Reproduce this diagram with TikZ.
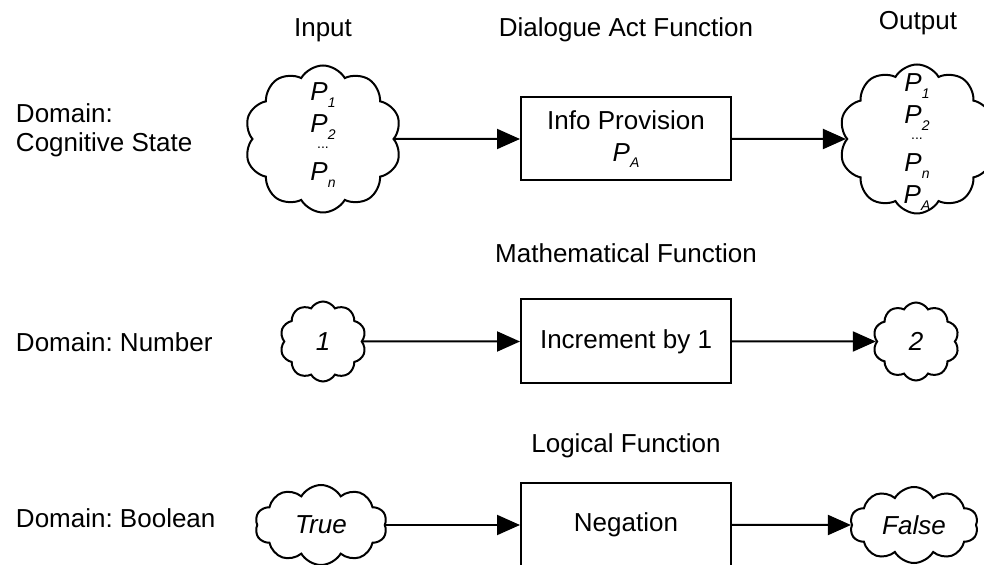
\documentclass[tikz,border=0pt]{standalone}
\usepackage{fontspec}
\setmainfont{Liberation Sans}
\usetikzlibrary{shapes,arrows.meta,positioning}

\newcommand{\Pv}[1]{\textit{P}\raisebox{-0.45ex}{\fontsize{7}{8}\selectfont\itshape #1}}
\newcommand{\tinydots}{{\fontsize{7}{8}\selectfont ...}}
\frenchspacing

\begin{document}
\begin{tikzpicture}[x=0.5pt, y=-0.5pt, line width=1pt,
  every node/.style={font=\fontsize{13}{16}\selectfont},
  fnbox/.style={draw, rectangle, minimum width=105pt, minimum height=42pt, inner sep=0pt, align=center},
  blob/.style={draw, cloud, cloud puffs=10, cloud puff arc=120, cloud ignores aspect, inner sep=0pt, align=center, font=\fontsize{13}{16}\selectfont\itshape},
  ptext/.style={inner sep=0pt, align=center},
  arr/.style={-{Triangle[length=11.5pt, width=10pt]}},
  lbl/.style={inner sep=0pt, anchor=base},
  dom/.style={inner sep=0pt, align=left}]
  \useasboundingbox (0,0) rectangle (984,565);

  % column titles
  \node[lbl] (intitle) at (323,37) {Input};
  \node[lbl] (daftitle) at (626,37) {Dialogue Act Function};
  \node[lbl] (outtitle) at (918,30) {Output};

  % domain: cognitive state
  \node[dom, anchor=west] (domcog) at (15,130) {Domain:\\[-1.5pt]Cognitive State};
  \node[blob, minimum width=78.5pt, minimum height=73.5pt] (cogin) at (323,139) {};
  \node[ptext] (cogintxt) at (323,135) {\Pv{1}\\\Pv{2}\\[-8pt]\tinydots\\\Pv{n}};
  \node[fnbox, minimum height=41.5pt] (infoprov) at (626,139) {Info Provision\\\Pv{A}};
  \node[blob, minimum width=78pt, minimum height=74.5pt] (cogout) at (917,139) {};
  \node[ptext] (cogouttxt) at (917,142) {\Pv{1}\\\Pv{2}\\[-8pt]\tinydots\\\Pv{n}\\\Pv{A}};
  \draw[arr] (cogin) -- (infoprov);
  \draw[arr] (infoprov) -- (cogout);

  % domain: number
  \node[lbl] (mathtitle) at (626,263) {Mathematical Function};
  \node[dom, anchor=base west] (domnum) at (15,352) {Domain: Number};
  \node[blob, minimum width=43pt, minimum height=40pt] (numin) at (323,341.5) {1};
  \node[fnbox] (incr) at (626,341.5) {Increment by 1};
  \node[blob, minimum width=43pt, minimum height=39pt] (numout) at (916,341.5) {2};
  \draw[arr] (numin) -- (incr);
  \draw[arr] (incr) -- (numout);

  % domain: boolean
  \node[lbl] (logtitle) at (626,453) {Logical Function};
  \node[dom, anchor=base west] (dombool) at (15,528) {Domain: Boolean};
  \node[blob, minimum width=66pt, minimum height=40pt] (boolin) at (321,525) {True};
  \node[fnbox] (negation) at (626,525) {Negation};
  \node[blob, minimum width=64pt, minimum height=38pt] (boolout) at (914,525) {False};
  \draw[arr] (boolin) -- (negation);
  \draw[arr] (negation) -- (boolout);
\end{tikzpicture}
\end{document}
